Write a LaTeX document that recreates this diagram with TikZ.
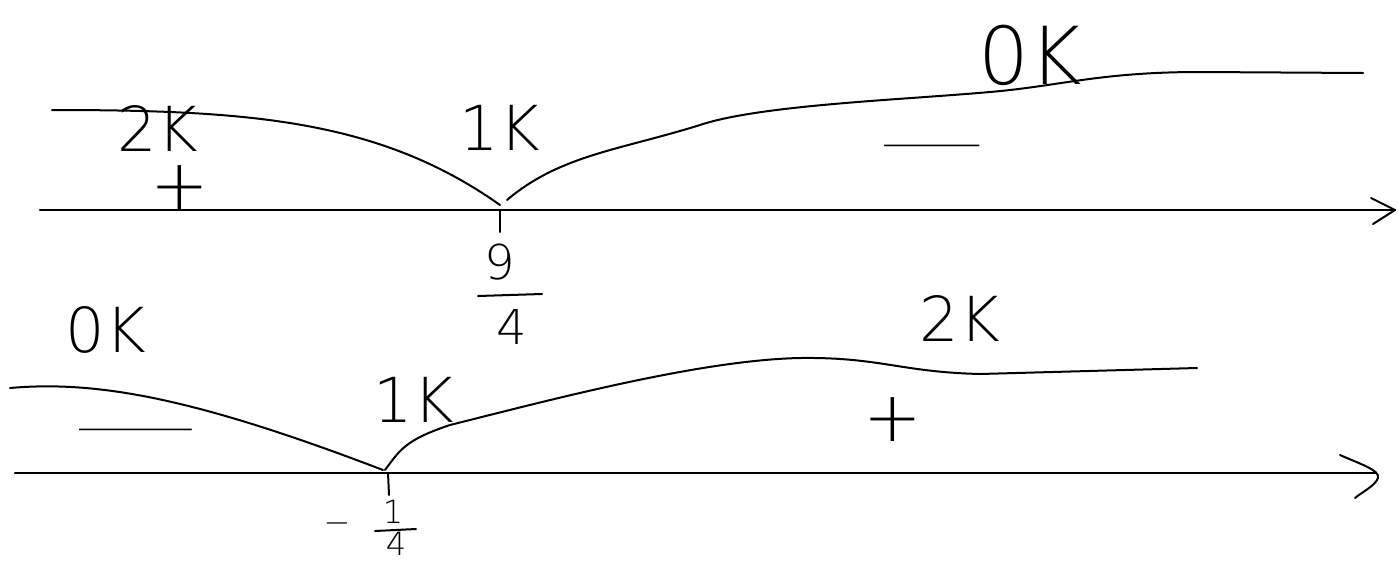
\documentclass[tikz,border=0pt]{standalone}
\usepackage{fontspec}
\setmainfont{Liberation Sans}
\newfontfamily\hand{DejaVu Sans ExtraLight}
\begin{document}
\begin{tikzpicture}[x=1pt,y=-1pt,line width=2pt,line cap=round,line join=round,
  lbl/.style={inner sep=0pt,font=\hand\fontsize{62}{62}\selectfont},
  big/.style={inner sep=0pt,font=\hand\fontsize{80}{80}\selectfont},
  sgn/.style={inner sep=0pt,font=\hand\fontsize{70}{70}\selectfont},
  frac/.style={inner sep=0pt,font=\hand\fontsize{48}{48}\selectfont},
  smallfrac/.style={inner sep=0pt,font=\hand\fontsize{32}{32}\selectfont},
  axis/.style={line width=2.4pt},
  curve/.style={line width=2pt}]
\useasboundingbox (0,0) rectangle (1399,563);
% ---------- top axis ----------
\coordinate (a1s) at (40,210);
\coordinate (a1e) at (1395,210);
\draw[axis] (a1s) -- (a1e);
\draw[curve] ([shift={(-24,-12)}]a1e) -- (a1e) -- ([shift={(-22,14)}]a1e);
\coordinate (t1) at (500,210);
\draw[curve] (t1) -- ++(0,22) coordinate (t1b);
% top curves
\coordinate (c1a) at (52,110);
\coordinate (c1b) at (500,205);
\draw[curve] (c1a) .. controls (250,110) and (380,120) .. (c1b);
\coordinate (c2a) at (507,200);
\coordinate (c2b) at (1363,73);
\draw[curve] (c2a) .. controls (560,155) and (620,150) .. (700,125)
  .. controls (760,105) and (900,100) .. (990,92)
  .. controls (1060,86) and (1100,72) .. (1200,72) -- (c2b);
% top labels
\node[lbl] (l2k) at (158,128) {2K};
\node[sgn] (lp1) at (180,188) {+};
\node[lbl] (l1k) at (500,128) {1K};
\node[big] (l0k) at (1030,55) {0K};
\node[inner sep=0pt] (lm1) at (932,152) {\scalebox{3.8}[1]{\hand\fontsize{40}{40}\selectfont −}};
\node[frac] (n9) at (500,262) {9};
\coordinate (b1a) at (478,296);
\coordinate (b1b) at (542,294);
\draw[curve] (b1a) -- (b1b);
\node[frac] (n4) at (512,327) {4};
% ---------- bottom axis ----------
\coordinate (a2s) at (15,473);
\coordinate (a2e) at (1375,473);
\draw[axis] (a2s) -- (a2e);
\coordinate (h1) at (1340,455);
\coordinate (h2) at (1355,498);
\draw[curve] (h1) .. controls (1360,464) and (1380,470) .. (1378,478) .. controls (1375,486) and (1362,492) .. (h2);
\coordinate (t2) at (388,473);
\draw[curve] (t2) -- ++(1,22) coordinate (t2b);
% bottom curves
\coordinate (c3a) at (10,388);
\coordinate (c3b) at (383,470);
\draw[curve] (c3a) .. controls (100,380) and (200,400) .. (c3b);
\coordinate (c4a) at (385,470);
\coordinate (c4b) at (1197,368);
\draw[curve] (c4a) .. controls (400,450) and (405,440) .. (450,425)
  .. controls (550,400) and (700,360) .. (800,358)
  .. controls (880,357) and (900,372) .. (980,374) -- (c4b);
% bottom labels
\node[lbl] (b0k) at (106,330) {0K};
\node[inner sep=0pt] (bm1) at (136,436) {\scalebox{4.5}[1]{\hand\fontsize{40}{40}\selectfont −}};
\node[lbl] (b1k) at (414,400) {1K};
\node[lbl] (b2k) at (960,318) {2K};
\node[sgn] (bp1) at (893,420) {+};
\node[smallfrac] (bmin) at (337,528) {−};
\node[smallfrac] (n1) at (393,512) {1};
\coordinate (b2a) at (375,531);
\coordinate (b2b) at (416,529);
\draw[curve] (b2a) -- (b2b);
\node[smallfrac] (n4b) at (396,544) {4};
\end{tikzpicture}
\end{document}
